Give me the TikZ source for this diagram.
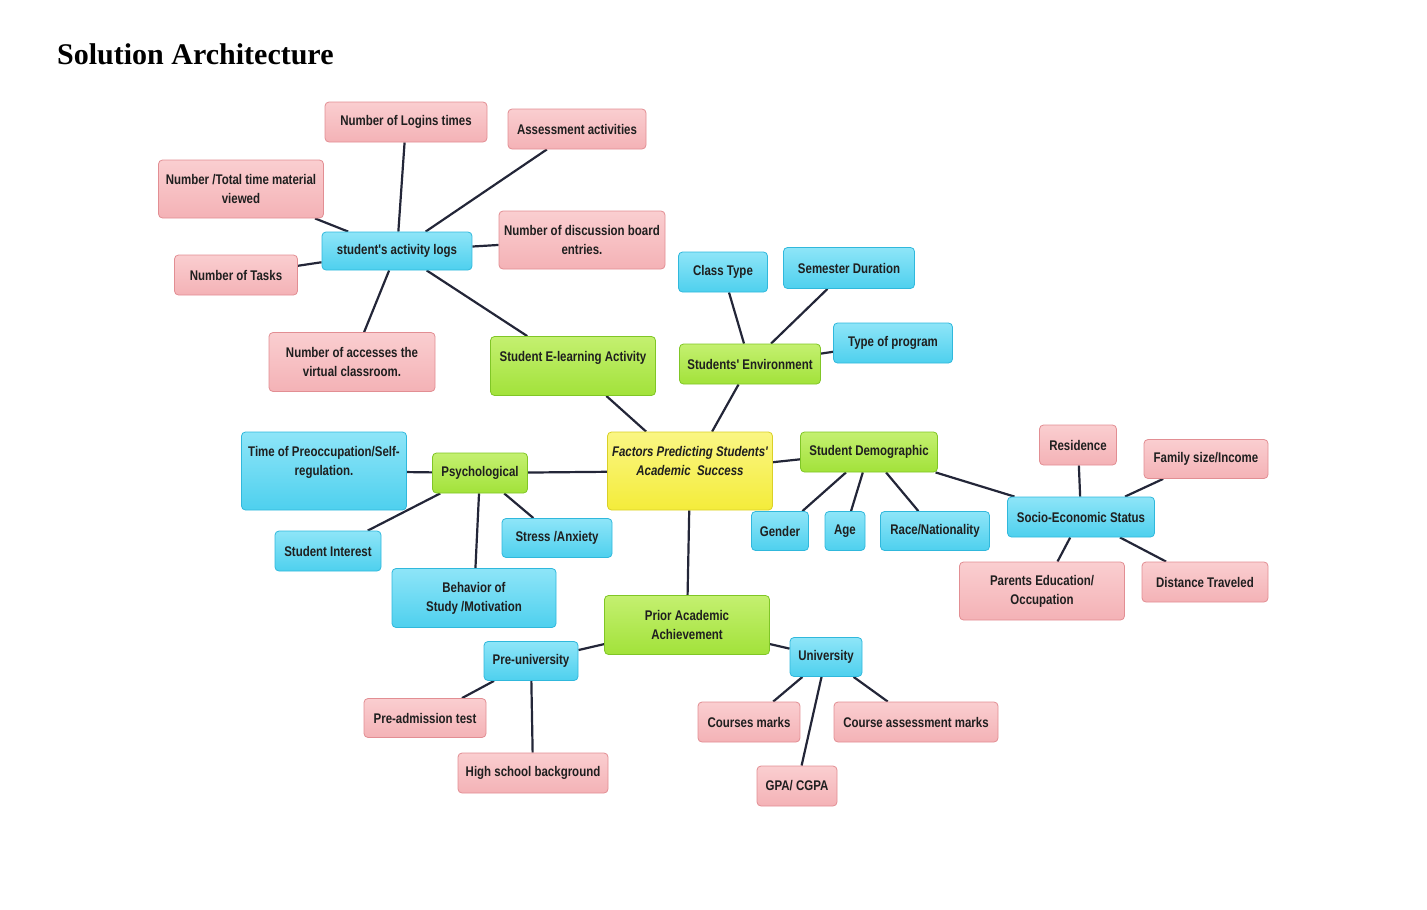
\documentclass[tikz,border=0pt]{standalone}
\usepackage{fontspec}
\setmainfont{Liberation Serif}
\newfontfamily\boxFont[FakeStretch=0.82]{Liberation Sans}
\usetikzlibrary{backgrounds}

\definecolor{pinkColor}{RGB}{244,178,182}
\definecolor{pinkTop}{RGB}{250,206,208}
\definecolor{pinkLine}{RGB}{226,142,147}
\definecolor{blueColor}{RGB}{78,208,238}
\definecolor{blueTop}{RGB}{142,229,248}
\definecolor{blueLine}{RGB}{48,184,220}
\definecolor{greenColor}{RGB}{162,226,58}
\definecolor{greenTop}{RGB}{196,240,112}
\definecolor{greenLine}{RGB}{128,198,38}
\definecolor{yellowColor}{RGB}{244,236,58}
\definecolor{yellowTop}{RGB}{250,246,132}
\definecolor{yellowLine}{RGB}{218,208,40}
\definecolor{linkColor}{RGB}{35,38,56}

\begin{document}
\begin{tikzpicture}[x=1pt,y=-1pt,
  box/.style={rounded corners=4pt, line width=0.8pt, inner xsep=2pt, inner ysep=1pt,
    align=center, minimum height=40, text=black!88,
    font=\boxFont\bfseries\fontsize{14}{19}\selectfont},
  pinkBox/.style={box, draw=pinkLine, top color=pinkTop, bottom color=pinkColor},
  blueBox/.style={box, draw=blueLine, top color=blueTop, bottom color=blueColor},
  greenBox/.style={box, draw=greenLine, top color=greenTop, bottom color=greenColor},
  yellowBox/.style={box, draw=yellowLine, top color=yellowTop, bottom color=yellowColor},
  link/.style={draw=linkColor, line width=2.2pt}]
  \useasboundingbox (0,0) rectangle (1427,910);
  \node[anchor=base west, inner sep=0, font=\bfseries\fontsize{30}{36}\selectfont] (title) at (57,64) {Solution Architecture};
  % Centre
  \node[yellowBox, minimum width=165, minimum height=78, text depth=20, font=\boxFont\bfseries\itshape\fontsize{14}{19}\selectfont] (center) at (690,471) {Factors Predicting Students'\\Academic\ \ Success};
  % E-learning activity
  \node[greenBox, minimum width=165, minimum height=59, text depth=19] (eLearning) at (573,366) {Student E-learning Activity};
  \node[blueBox, minimum width=150, minimum height=38] (logs) at (397,251) {student's activity logs};
  \node[pinkBox, minimum width=162] (logins) at (406,122) {Number of Logins times};
  \node[pinkBox, minimum width=138] (assess) at (577,129) {Assessment activities};
  \node[pinkBox, minimum width=165, minimum height=58] (numTotal) at (241,189) {Number /Total time material\\viewed};
  \node[pinkBox, minimum width=166, minimum height=58] (discussion) at (582,240) {Number of discussion board\\entries.};
  \node[pinkBox, minimum width=123] (tasks) at (236,275) {Number of Tasks};
  \node[pinkBox, minimum width=166, minimum height=59] (accesses) at (352,362) {Number of accesses the\\virtual classroom.};
  % Environment
  \node[greenBox, minimum width=141] (environment) at (750,364) {Students' Environment};
  \node[blueBox, minimum width=89] (classType) at (723,272) {Class Type};
  \node[blueBox, minimum width=131, minimum height=41] (semester) at (849,268) {Semester Duration};
  \node[blueBox, minimum width=119] (program) at (893,343) {Type of program};
  % Psychological
  \node[greenBox, minimum width=95] (psych) at (480,473) {Psychological};
  \node[blueBox, minimum width=165, minimum height=78, text depth=20] (timePre) at (324,471) {Time of Preoccupation/Self-\\regulation.};
  \node[blueBox, minimum width=106] (interest) at (328,551) {Student Interest};
  \node[blueBox, minimum width=110, minimum height=39] (stress) at (557,538) {Stress /Anxiety};
  \node[blueBox, minimum width=164, minimum height=59] (behavior) at (474,598) {Behavior of\\Study /Motivation};
  % Demographic
  \node[greenBox, minimum width=137] (demographic) at (869,452) {Student Demographic};
  \node[blueBox, minimum width=57, minimum height=39] (gender) at (780,531) {Gender};
  \node[blueBox, minimum width=40, minimum height=39] (age) at (845,531) {Age};
  \node[blueBox, minimum width=109, minimum height=39] (race) at (935,531) {Race/Nationality};
  \node[blueBox, minimum width=147] (socio) at (1081,517) {Socio-Economic Status};
  \node[pinkBox, minimum width=77] (residence) at (1078,445) {Residence};
  \node[pinkBox, minimum width=124, minimum height=39] (family) at (1206,459) {Family size/Income};
  \node[pinkBox, minimum width=165, minimum height=58] (parents) at (1042,591) {Parents Education/\\Occupation};
  \node[pinkBox, minimum width=126] (distance) at (1205,582) {Distance Traveled};
  % Prior achievement
  \node[greenBox, minimum width=165, minimum height=59] (prior) at (687,625) {Prior Academic\\Achievement};
  \node[blueBox, minimum width=94, minimum height=39] (preUni) at (531,661) {Pre-university};
  \node[blueBox, minimum width=72, minimum height=39] (uni) at (826,657) {University};
  \node[pinkBox, minimum width=122, minimum height=39] (preAdm) at (425,718) {Pre-admission test};
  \node[pinkBox, minimum width=150] (highSchool) at (533,773) {High school background};
  \node[pinkBox, minimum width=102] (courses) at (749,722) {Courses marks};
  \node[pinkBox, minimum width=164] (courseAssess) at (916,722) {Course assessment marks};
  \node[pinkBox, minimum width=80] (gpa) at (797,786) {GPA/ CGPA};
  % Links
  \begin{scope}[on background layer]
    \foreach \a/\b in {center/eLearning, center/environment, center/psych, center/demographic, center/prior,
      eLearning/logs, logs/logins, logs/assess, logs/numTotal, logs/discussion, logs/tasks, logs/accesses,
      environment/classType, environment/semester, environment/program,
      psych/timePre, psych/interest, psych/stress, psych/behavior,
      demographic/gender, demographic/age, demographic/race, demographic/socio,
      socio/residence, socio/family, socio/parents, socio/distance,
      prior/preUni, prior/uni, preUni/preAdm, preUni/highSchool,
      uni/courses, uni/courseAssess, uni/gpa}
      \draw[link] (\a) -- (\b);
  \end{scope}
\end{tikzpicture}
\end{document}
